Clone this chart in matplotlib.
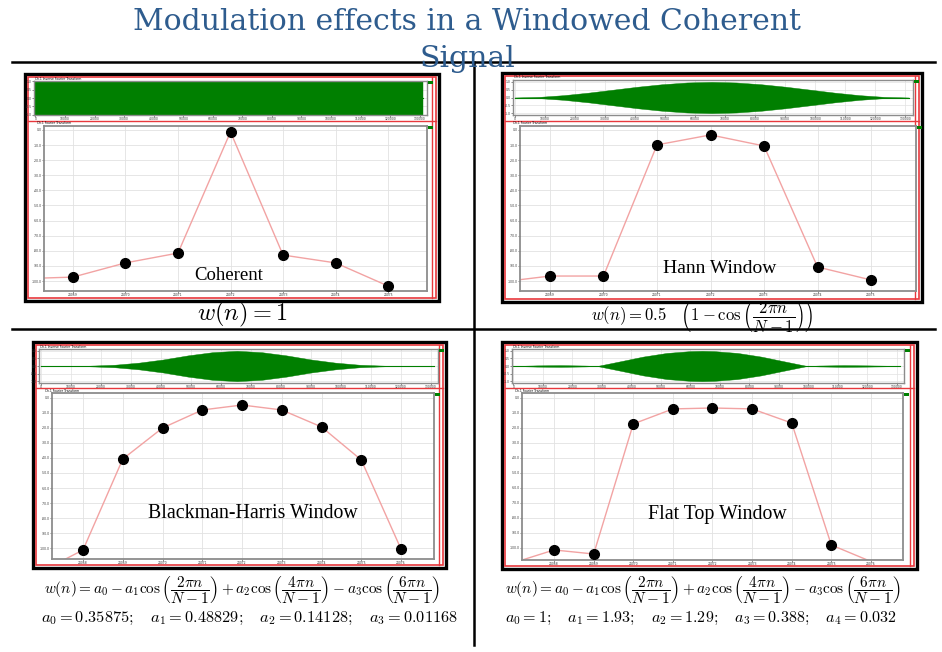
import matplotlib
matplotlib.use('Agg')
import matplotlib.pyplot as plt
from matplotlib.patches import Rectangle
from matplotlib.lines import Line2D

plt.rcParams['mathtext.fontset'] = 'cm'

W, H = 942, 652
fig = plt.figure(figsize=(9.42, 6.52), dpi=100)

# ---------------- data ----------------
title_line1 = "Modulation effects in a Windowed Coherent"
title_line2 = "Signal"
panel_names = ["Coherent", "Hann Window", "Blackman-Harris Window", "Flat Top Window"]
formulas = [
    r"$w(n) = 1$",
    r"$w(n) = 0.5\quad\left(1 - \cos\left(\dfrac{2\pi n}{N-1}\right)\right)$",
    r"$w(n) = a_0 - a_1\cos\left(\dfrac{2\pi n}{N-1}\right) + a_2\cos\left(\dfrac{4\pi n}{N-1}\right) - a_3\cos\left(\dfrac{6\pi n}{N-1}\right)$",
    r"$w(n) = a_0 - a_1\cos\left(\dfrac{2\pi n}{N-1}\right) + a_2\cos\left(\dfrac{4\pi n}{N-1}\right) - a_3\cos\left(\dfrac{6\pi n}{N-1}\right)$",
]
coef_lines = [
    None,
    None,
    r"$a_0 = 0.35875;\quad a_1 = 0.48829;\quad a_2 = 0.14128;\quad a_3 = 0.01168$",
    r"$a_0 = 1;\quad a_1 = 1.93;\quad a_2 = 1.29;\quad a_3 = 0.388;\quad a_4 = 0.032$",
]
top_title = "Ch.1 Inverse Fourier Transform"
bot_title = "Ch.1 Fourier Transform"

# time-domain envelopes (sample index, amplitude)
coh_env_x = [0, 131072]
coh_env = [1.0, 1.0]
win_env_x = [0, 8192, 16384, 24576, 32768, 40960, 49152, 57344, 65536,
             73728, 81920, 90112, 98304, 106496, 114688, 122880, 131072]
hann_env = [0.0, 0.04, 0.15, 0.31, 0.5, 0.69, 0.85, 0.96, 1.0,
            0.96, 0.85, 0.69, 0.5, 0.31, 0.15, 0.04, 0.0]
bh_env = [0.0, 0.003, 0.02, 0.08, 0.22, 0.43, 0.70, 0.91, 1.0,
          0.91, 0.70, 0.43, 0.22, 0.08, 0.02, 0.003, 0.0]
ft_env_x = [0, 8000, 16000, 24000, 28400, 36000, 44000, 52000, 60000, 64000,
            68000, 76000, 84000, 92000, 99600, 104000, 112000, 120000, 128000, 131072]
ft_env = [0.0, 0.04, 0.055, 0.03, 0.0, 0.3, 0.62, 0.86, 0.98, 1.0,
          0.98, 0.86, 0.62, 0.3, 0.0, 0.03, 0.055, 0.04, 0.015, 0.0]
time_ticks = [0, 10000, 20000, 30000, 40000, 50000, 60000, 70000, 80000,
              90000, 100000, 110000, 120000, 130000]

# spectra: FFT bin and magnitude (dB)
coh_bins = [24068, 24069, 24070, 24071, 24072, 24073, 24074, 24075]
coh_db = [-98.5, -97.4, -88.0, -81.5, -1.3, -82.8, -88.0, -103.3]
hann_bins = [24068, 24069, 24070, 24071, 24072, 24073, 24074, 24075]
hann_db = [-101.0, -96.7, -96.7, -9.9, -3.3, -10.6, -90.7, -99.3]
bh_bins = [24067, 24068, 24069, 24070, 24071, 24072, 24073, 24074, 24075, 24076]
bh_db = [-115.0, -101.3, -40.7, -20.0, -8.0, -4.7, -8.0, -19.3, -41.3, -100.7]
ft_bins = [24067, 24068, 24069, 24070, 24071, 24072, 24073, 24074, 24075, 24076]
ft_db = [-109.6, -101.3, -104.0, -17.3, -7.3, -6.7, -7.3, -16.7, -98.0, -109.0]
# which points carry markers (measured bins inside the view)
mark_slices = [slice(1, 8), slice(1, 8), slice(1, 10), slice(1, 9)]
bins7 = [24069, 24070, 24071, 24072, 24073, 24074, 24075]
bins9 = [24068, 24069, 24070, 24071, 24072, 24073, 24074, 24075, 24076]
db_ticks = [0, -10, -20, -30, -40, -50, -60, -70, -80, -90, -100]

# ---------------- layout (pixels) ----------------
def ax_at(x0, y0, x1, y1):
    return fig.add_axes([x0 / W, 1 - y1 / H, (x1 - x0) / W, (y1 - y0) / H])

def rect(x0, y0, x1, y1, z=2, **kw):
    r = Rectangle((x0 / W, 1 - y1 / H), (x1 - x0) / W, (y1 - y0) / H,
                  transform=fig.transFigure, zorder=z, **kw)
    fig.patches.append(r)

def hline(x0, x1, y, **kw):
    fig.lines.append(Line2D([x0 / W, x1 / W], [1 - y / H, 1 - y / H], transform=fig.transFigure, **kw))

def vline(x, y0, y1, **kw):
    fig.lines.append(Line2D([x / W, x / W], [1 - y0 / H, 1 - y1 / H], transform=fig.transFigure, **kw))

panels = [
    dict(frame=(25, 74, 439, 301), top=(34, 81, 427, 115), sep=121, bot=(44, 126, 427, 291),
         envx=coh_env_x, env=coh_env, ylim_t=1.02, bins=coh_bins, db=coh_db, xt=bins7,
         xlim=(24068.45, 24075.74), ylim=(-106.6, 2.6),
         name_xy=(229, 275), name_fs=13.5, f_xy=(242, 314), f_fs=17.5, f_y2=None),
    dict(frame=(502, 73, 922, 302), top=(513, 80, 913, 115), sep=121, bot=(520, 126, 916, 291),
         envx=win_env_x, env=hann_env, ylim_t=1.12, bins=hann_bins, db=hann_db, xt=bins7,
         xlim=(24068.44, 24075.84), ylim=(-106.6, 2.6),
         name_xy=(720, 269), name_fs=14, f_xy=(702, 316), f_fs=12, f_y2=None),
    dict(frame=(33, 342, 446, 568), top=(39, 349, 438, 383), sep=388, bot=(52, 393, 434, 559),
         envx=win_env_x, env=bh_env, ylim_t=1.12, bins=bh_bins, db=bh_db, xt=bins9,
         xlim=(24067.22, 24076.83), ylim=(-107.3, 3.3),
         name_xy=(253, 514), name_fs=14.3, f_xy=(242, 591), f_fs=11, c_xy=(249, 618), c_fs=11.8),
    dict(frame=(502, 342, 917, 569), top=(512, 349, 904, 383), sep=388, bot=(522, 393, 903, 560),
         envx=ft_env_x, env=ft_env, ylim_t=1.12, bins=ft_bins, db=ft_db, xt=bins9,
         xlim=(24067.19, 24076.81), ylim=(-108.0, 3.3),
         name_xy=(717, 515), name_fs=14.3, f_xy=(703, 591), f_fs=11, c_xy=(701, 618), c_fs=11.6),
]

GREEN = '#007F00'
RED = '#E8383D'
SPINE = '#8C8C8C'
GRID = '#E2E2E2'
TINY = 2.2

for i, p in enumerate(panels):
    fx0, fy0, fx1, fy1 = p['frame']
    rect(fx0, fy0, fx1, fy1, z=-5, facecolor='white', edgecolor='black', linewidth=2.4)
    rect(fx0 + 3, fy0 + 3, fx1 - 3, fy1 - 3, z=-4, facecolor='none', edgecolor=RED, linewidth=1.2)
    vline(fx1 - 7, fy0 + 3, fy1 - 3, color=RED, linewidth=1.0, zorder=-4)
    hline(fx0 + 3, fx1 - 3, p['sep'], color=RED, linewidth=1.0, zorder=-4)

    # time-domain (green) plot
    t = ax_at(*p['top'])
    t.fill_between(p['envx'], [-v for v in p['env']], p['env'], color=GREEN, linewidth=0.3)
    t.plot([p['envx'][0], p['envx'][-1]], [0, 0], color=GREEN, linewidth=0.8)
    t.set_xlim(-500, 132500)
    t.set_ylim(-p['ylim_t'], p['ylim_t'])
    t.set_xticks(time_ticks)
    t.set_xticklabels([str(v) for v in time_ticks])
    t.set_yticks([-1, -0.5, 0, 0.5, 1])
    t.set_yticklabels(["-1.0", "-0.5", "0.0", "0.5", "1.0"])
    t.tick_params(labelsize=TINY, length=1.2, width=0.4, pad=0.5, colors='#333333')
    t.grid(True, color=GRID, linewidth=0.5)
    t.set_axisbelow(True)
    for s in t.spines.values():
        s.set_color(SPINE)
        s.set_linewidth(1.0)
    x0t, y0t, x1t = p['top'][0], p['top'][1], p['top'][2]
    fig.text((x0t + 1) / W, 1 - (y0t - 0.5) / H, top_title, fontsize=TINY, va='bottom', ha='left')
    rect(x1t + 1, y0t, x1t + 6, y0t + 3, facecolor=GREEN, edgecolor='none')

    # spectrum plot
    b = ax_at(*p['bot'])
    b.plot(p['bins'], p['db'], color='#F2A3A3', linewidth=1.0, zorder=2)
    mx = p['bins'][mark_slices[i]]
    my = p['db'][mark_slices[i]]
    b.plot(mx, my, linestyle='none', marker='o', markersize=7, color='black', zorder=3)
    b.set_xlim(*p['xlim'])
    b.set_ylim(*p['ylim'])
    b.set_xticks(p['xt'])
    b.set_xticklabels([str(v) for v in p['xt']])
    b.set_yticks(db_ticks)
    b.set_yticklabels([f"{v:.1f}" for v in db_ticks])
    b.tick_params(labelsize=TINY, length=1.2, width=0.4, pad=0.5, colors='#333333')
    b.grid(True, color=GRID, linewidth=0.6)
    b.set_axisbelow(True)
    for s in b.spines.values():
        s.set_color(SPINE)
        s.set_linewidth(1.3)
    x0b, y0b, x1b = p['bot'][0], p['bot'][1], p['bot'][2]
    fig.text((x0b - 7) / W, 1 - (y0b - 0.5) / H, bot_title, fontsize=TINY, va='bottom', ha='left')
    rect(x1b + 1, y0b, x1b + 6, y0b + 3, facecolor=GREEN, edgecolor='none')

    nx, ny = p['name_xy']
    fig.text(nx / W, 1 - ny / H, panel_names[i], ha='center', va='center',
             fontsize=p['name_fs'], family='Liberation Serif', color='black', zorder=5)
    fxx, fyy = p['f_xy']
    fig.text(fxx / W, 1 - fyy / H, formulas[i], ha='center', va='center', fontsize=p['f_fs'])
    if coef_lines[i] is not None:
        cx, cy = p['c_xy']
        fig.text(cx / W, 1 - cy / H, coef_lines[i], ha='center', va='center', fontsize=p['c_fs'])

# slide dividers
hline(12, 935, 62, color='black', linewidth=1.8)
hline(12, 935, 329, color='black', linewidth=1.8)
vline(474, 62, 645, color='black', linewidth=1.8)

# title
TITLE = '#2E5C8E'
fig.text(467 / W, 1 - 22 / H, title_line1, ha='center', va='center', fontsize=21.5,
         family='DejaVu Serif', color=TITLE)
fig.text(467 / W, 1 - 59 / H, title_line2, ha='center', va='center', fontsize=21.5,
         family='DejaVu Serif', color=TITLE)

fig.savefig('out.png', dpi=100, facecolor='white')
